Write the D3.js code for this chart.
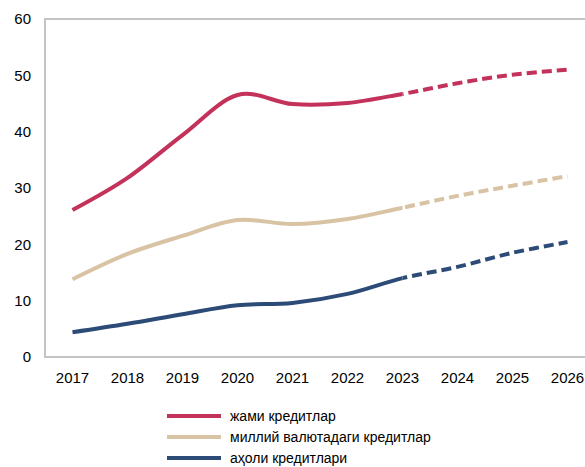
<!DOCTYPE html>
<meta http-equiv="content-type" content="text/html; charset=utf-8">
<style>
body { margin: 0; background: #fff; }
text { font-family: "Liberation Sans", Arial, sans-serif; fill: #000; }
</style>
<body>
<div id="chart"></div>
<script src="https://d3js.org/d3.v7.min.js"></script>
<script>
var years = ["2017", "2018", "2019", "2020", "2021", "2022", "2023", "2024", "2025", "2026"];
var totalLoans = [26.1, 31.8, 39.4, 46.5, 44.9, 45.1, 46.7, 48.6, 50.1, 51.0];
var nationalLoans = [13.8, 18.3, 21.5, 24.3, 23.6, 24.5, 26.5, 28.6, 30.4, 32.1];
var householdLoans = [4.4, 5.9, 7.6, 9.2, 9.6, 11.2, 14.0, 16.0, 18.5, 20.4];
var yTicks = [0, 10, 20, 30, 40, 50, 60];
var seriesNames = ["жами кредитлар", "миллий валютадаги кредитлар", "аҳоли кредитлари"];
var seriesColors = ["#c3325a", "#d8c3a4", "#2d4b77"];
var lastActual = "2023";

var width = 585, height = 467;
var plotLeft = 45, plotTop = 19, plotBottom = 357;

var svg = d3.select("#chart").append("svg")
    .attr("width", width)
    .attr("height", height);

var x = d3.scalePoint()
    .domain(years)
    .range([plotLeft + 27.5, plotLeft + 27.5 + 55 * 9]);

var y = d3.scaleLinear()
    .domain([0, 60])
    .range([plotBottom, plotTop]);

// frame: top, left, bottom
svg.append("path")
    .attr("d", "M" + (width + 20) + "," + plotTop + "H" + plotLeft + "V" + plotBottom + "H" + (width + 20))
    .attr("fill", "none")
    .attr("stroke", "#c4c4c4")
    .attr("stroke-width", 2);

svg.selectAll(".ytick")
  .data(yTicks)
  .enter().append("text")
    .attr("class", "ytick")
    .attr("x", 31)
    .attr("y", function(d) { return y(d); })
    .attr("dy", "0.35em")
    .attr("text-anchor", "end")
    .attr("font-size", "15px")
    .text(function(d) { return d; });

svg.selectAll(".xtick")
  .data(years)
  .enter().append("text")
    .attr("class", "xtick")
    .attr("x", function(d) { return x(d); })
    .attr("y", 383)
    .attr("text-anchor", "middle")
    .attr("font-size", "15px")
    .text(function(d) { return d; });

var line = d3.line()
    .x(function(d) { return x(d.year); })
    .y(function(d) { return y(d.value); })
    .curve(d3.curveCatmullRom.alpha(0));

var series = [totalLoans, nationalLoans, householdLoans].map(function(vals, i) {
  return {
    id: "s" + i,
    color: seriesColors[i],
    points: years.map(function(yr, j) { return { year: yr, value: vals[j] }; })
  };
});

var cut = x(lastActual);
var defs = svg.append("defs");
defs.append("clipPath").attr("id", "actualClip")
  .append("rect").attr("x", 0).attr("y", 0).attr("width", cut).attr("height", height);
defs.append("clipPath").attr("id", "forecastClip")
  .append("rect").attr("x", cut).attr("y", 0).attr("width", width - cut + 40).attr("height", height);

series.forEach(function(s) {
  var full = line(s.points);
  svg.append("path")
    .attr("d", full)
    .attr("fill", "none")
    .attr("stroke", s.color)
    .attr("stroke-width", 4)
    .attr("clip-path", "url(#actualClip)");

  svg.append("path")
    .attr("d", full)
    .attr("fill", "none")
    .attr("stroke", s.color)
    .attr("stroke-width", 4)
    .attr("stroke-dasharray", "10,5")
    .attr("clip-path", "url(#forecastClip)");
});

var legend = svg.append("g");
seriesNames.forEach(function(name, i) {
  var ly = 416 + i * 21;
  legend.append("line")
    .attr("x1", 167).attr("x2", 221)
    .attr("y1", ly).attr("y2", ly)
    .attr("stroke", seriesColors[i])
    .attr("stroke-width", 4);
  legend.append("text")
    .attr("x", 230)
    .attr("y", ly)
    .attr("dy", "0.35em")
    .attr("font-size", "14px")
    .text(name);
});
</script>
</body>
</html>
